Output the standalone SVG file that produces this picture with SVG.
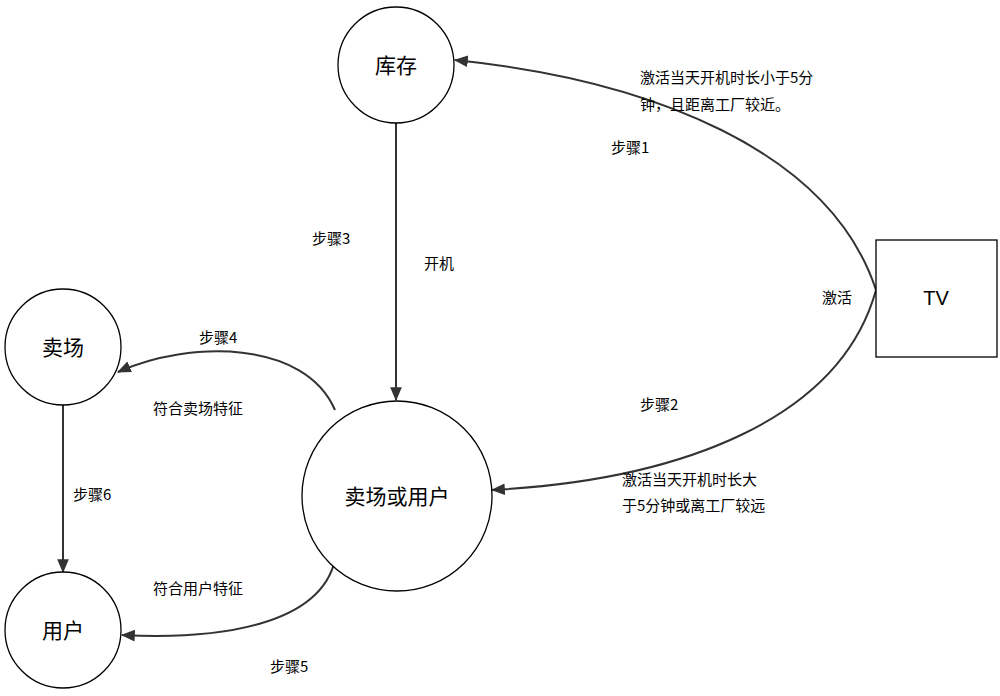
<svg xmlns="http://www.w3.org/2000/svg" width="1000" height="696" viewBox="0 0 1000 696">
<style>
.n{fill:#fff;stroke:#000;stroke-width:1.3}
.e{fill:none;stroke:#333;stroke-width:2;marker-end:url(#a)}
text{font-family:"Noto Sans CJK SC","Liberation Sans",sans-serif;fill:#000}
.t{font-size:21px;text-anchor:middle}
.l{font-size:15px}
</style>
<defs><marker id="a" viewBox="0 0 10 10" refX="9" refY="5" markerWidth="7" markerHeight="7" orient="auto" markerUnits="userSpaceOnUse"><path d="M0,1L10,5L0,9z" fill="#333" transform="scale(1)"/></marker>
<marker id="b" viewBox="0 0 12 10" refX="11" refY="5" markerWidth="14" markerHeight="12" orient="auto" markerUnits="userSpaceOnUse"><path d="M0,0L12,5L0,10z" fill="#333"/></marker></defs>
<rect width="1000" height="696" fill="#fff"/>
<g id="edges">
<path style="fill:none;stroke:#333;stroke-width:2;marker-end:url(#b)" d="M876,290 C830,150 650,80 455,60"/>
<path style="fill:none;stroke:#333;stroke-width:2;marker-end:url(#b)" d="M876,290 C840,420 680,480 492,490"/>
<path style="fill:none;stroke:#333;stroke-width:2;marker-end:url(#b)" d="M396,120 L396,400"/>
<path style="fill:none;stroke:#333;stroke-width:2;marker-end:url(#b)" d="M335,410 C305,340 190,340 118,372"/>
<path style="fill:none;stroke:#333;stroke-width:2;marker-end:url(#b)" d="M335,560 C320,625 220,640 122,635"/>
<path style="fill:none;stroke:#333;stroke-width:2;marker-end:url(#b)" d="M63,405 L63,572"/>
</g>
<g id="kucun"><circle class="n" cx="396" cy="65" r="58"/><text class="t" x="396" y="73">库存</text></g>
<g id="maichang"><circle class="n" cx="63" cy="347" r="58"/><text class="t" x="63" y="355">卖场</text></g>
<g id="yonghu"><circle class="n" cx="63" cy="630" r="58"/><text class="t" x="63" y="638">用户</text></g>
<g id="mcyh"><circle class="n" cx="397" cy="496" r="95"/><text class="t" x="397" y="504">卖场或用户</text></g>
<g id="tv"><rect class="n" x="876" y="240" width="121" height="117"/><text class="t" x="936" y="305" style="font-family:'Liberation Sans',sans-serif;font-size:20px">TV</text></g>
<g id="labels">
<text class="l" x="640" y="83">激活当天开机时长小于5分</text>
<text class="l" x="640" y="110">钟，且距离工厂较近。</text>
<text class="l" x="611" y="153">步骤1</text>
<text class="l" x="312" y="244">步骤3</text>
<text class="l" x="424" y="269">开机</text>
<text class="l" x="822" y="303">激活</text>
<text class="l" x="199" y="343">步骤4</text>
<text class="l" x="153" y="414">符合卖场特征</text>
<text class="l" x="640" y="410">步骤2</text>
<text class="l" x="622" y="485">激活当天开机时长大</text>
<text class="l" x="622" y="511">于5分钟或离工厂较远</text>
<text class="l" x="73" y="500">步骤6</text>
<text class="l" x="153" y="594">符合用户特征</text>
<text class="l" x="270" y="672">步骤5</text>
</g>
</svg>
